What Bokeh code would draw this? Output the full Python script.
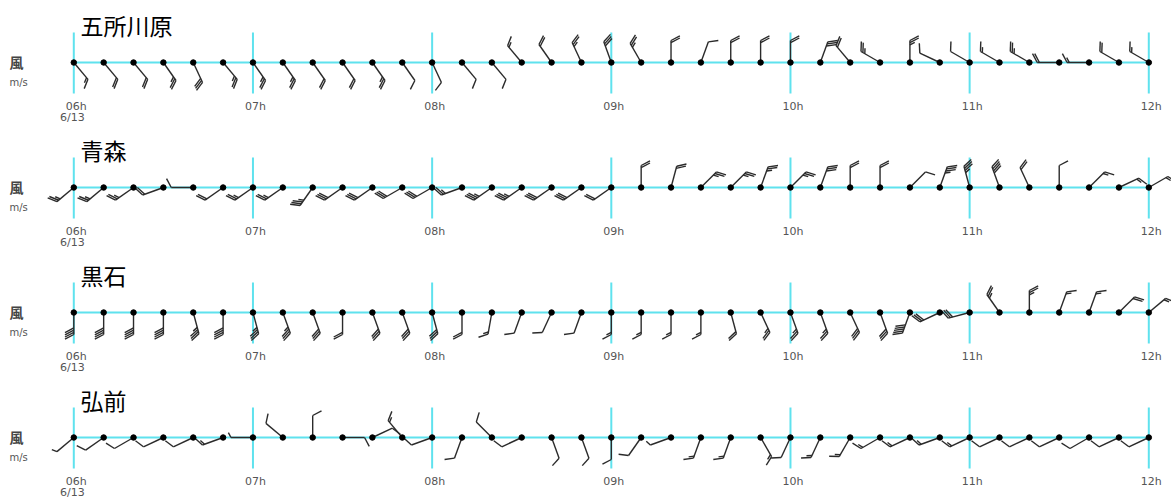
import math
from bokeh.plotting import figure
from bokeh.models import Range1d
from bokeh.embed import file_html
from bokeh.resources import INLINE
from bokeh.core.properties import value

# ---------------- data ----------------
stations = ["五所川原", "青森", "黒石", "弘前"]
minutes = list(range(0, 361, 10))          # minutes after 06:00 (10-min obs)
hour_minutes = [0, 60, 120, 180, 240, 300, 360]
hour_labels = ["06h", "07h", "08h", "09h", "10h", "11h", "12h"]
date_label = "6/13"
unit_top = "風"
unit_bottom = "m/s"

# wind direction (deg, blowing from) and speed (m/s)
goshogawara_dir = [140, 140, 140, 145, 155, 140, 145, 145, 145, 145, 145, 145, 155,
                   140, 140, 320, 325, 335, 340, 330, 0, 20, 0, 0, 0, 20, 320, 300,
                   0, 295, 300, 300, 300, 270, 270, 300, 300]
goshogawara_spd = [1.5, 2, 2, 2.5, 3, 2.5, 2.5, 2.5, 2, 2, 2.5, 1, 1,
                   1, 1, 1.5, 2, 2.5, 3, 2.5, 2, 1, 2, 2, 2, 3, 2, 2.5,
                   2.5, 1, 1, 1.5, 2.5, 2, 1.5, 2, 1.5]

aomori_dir = [230, 230, 235, 250, 270, 235, 235, 235, 215, 235, 235, 240, 240,
              250, 235, 235, 235, 235, 235, 0, 15, 45, 45, 20, 45, 20, 0, 0,
              45, 20, 345, 340, 335, 0, 45, 65, 60]
aomori_spd = [2.5, 2.5, 2.5, 2, 1, 2, 2.5, 2.5, 3.5, 3, 3, 3, 3,
              2.5, 3.5, 3.5, 3, 3, 2, 2, 2, 2.5, 2.5, 2.5, 2.5, 3, 2, 2,
              1, 3.5, 3.5, 4, 2, 1, 1.5, 1.5, 1.5]

kuroishi_dir = [180, 180, 180, 180, 165, 180, 165, 160, 160, 180, 160, 160, 165,
                180, 190, 200, 205, 200, 180, 180, 180, 180, 165, 155, 160, 160, 155, 160,
                200, 245, 255, 325, 0, 20, 20, 45, 50]
kuroishi_spd = [4, 4, 4, 4, 3.5, 4, 3.5, 3.5, 3, 2, 3, 3, 3,
                2, 1.5, 1, 1, 1, 1.5, 1.5, 1.5, 1.5, 2, 2.5, 2.5, 2.5, 3, 3,
                5, 3, 3, 2.5, 2.5, 1.5, 1.5, 2, 1.5]

hirosaki_dir = [230, 235, 240, 245, 245, 250, 270, 310, 0, 90, 65, 320, 250,
                200, 315, 245, 160, 160, 180, 215, 250, 200, 200, 150, 205, 205, 210, 240,
                245, 250, 245, 245, 245, 245, 240, 245, 245]
hirosaki_spd = [0.5, 1, 1, 1, 1, 1.5, 0.5, 1, 1, 1, 1, 1.5, 1,
                1, 1, 1, 1, 1, 1, 1, 0.5, 1.5, 1.5, 1.5, 1, 1.5, 1.5, 1.5,
                1.5, 1.5, 1.5, 1, 1, 1, 1, 1, 1]

all_dirs = [goshogawara_dir, aomori_dir, kuroishi_dir, hirosaki_dir]
all_spds = [goshogawara_spd, aomori_spd, kuroishi_spd, hirosaki_spd]

# ---------------- layout ----------------
W, H = 1171, 499
PX_PER_MIN = 1075.0 / 360.0
ORIGIN_PX = 73.3              # pixel of minute 0
x_start = -ORIGIN_PX / PX_PER_MIN
x_end = x_start + W / PX_PER_MIN
row_base = [62, 187, 312, 437]   # pixels (y grows downward)

SHAFT = 22.0
FEATHER = 10.0
SPACING = 2.2
CYAN = "#5fe2ee"

p = figure(width=W, height=H, x_range=Range1d(x_start, x_end), y_range=Range1d(H, 0),
           output_backend="svg", toolbar_location=None,
           x_axis_location=None, y_axis_location=None, min_border=0,
           outline_line_color=None, background_fill_color="white",
           border_fill_color="white")
p.grid.visible = False


def px2x(dpx):
    return dpx / PX_PER_MIN


def barb(xm, yb, d_deg, spd):
    segs = []
    d = math.radians(d_deg)
    ux, uy = math.sin(d), -math.cos(d)
    ex, ey = SHAFT * ux, SHAFT * uy
    segs.append((0, 0, ex, ey))
    a = math.radians(62)
    fx = ux * math.cos(a) - uy * math.sin(a)
    fy = ux * math.sin(a) + uy * math.cos(a)
    n_full = int(spd)
    half = (spd - n_full) >= 0.5
    pos = 0.0
    for _ in range(n_full):
        bx, by = ex - pos * ux, ey - pos * uy
        segs.append((bx, by, bx + FEATHER * fx, by + FEATHER * fy))
        pos += SPACING
    if half:
        bx, by = ex - pos * ux, ey - pos * uy
        segs.append((bx, by, bx + 0.55 * FEATHER * fx, by + 0.55 * FEATHER * fy))
    out = []
    for (a0, b0, a1, b1) in segs:
        out.append((xm + px2x(a0), yb + b0, xm + px2x(a1), yb + b1))
    return out


for r, name in enumerate(stations):
    yb = row_base[r]
    # cyan guide lines
    p.segment(x0=[minutes[0]], y0=[yb], x1=[minutes[-1]], y1=[yb],
              line_color=CYAN, line_width=2)
    p.segment(x0=hour_minutes, y0=[yb - 30] * 7, x1=hour_minutes, y1=[yb + 31] * 7,
              line_color=CYAN, line_width=2)
    # barbs
    x0s, y0s, x1s, y1s = [], [], [], []
    for m, dd, ss in zip(minutes, all_dirs[r], all_spds[r]):
        if ss <= 0:
            continue
        for (a0, b0, a1, b1) in barb(m, yb, dd, ss):
            x0s.append(a0); y0s.append(b0); x1s.append(a1); y1s.append(b1)
    p.segment(x0=x0s, y0=y0s, x1=x1s, y1=y1s, line_color="#2b2b2b", line_width=1.4)
    p.scatter(x=minutes, y=[yb] * len(minutes), size=5.5, color="black")
    # station title
    p.text(x=[px2x(80 - ORIGIN_PX)], y=[yb - 38], text=[name], text_font=value("Noto Sans CJK JP"),
           text_font_size="23px", text_baseline="middle", text_align="left", text_color="black")
    # unit labels
    p.text(x=[px2x(9 - ORIGIN_PX)], y=[yb - 1], text=[unit_top], text_font=value("Noto Sans CJK JP"),
           text_font_size="14px", text_font_style="bold", text_baseline="middle",
           text_align="left", text_color="#444444")
    p.text(x=[px2x(9 - ORIGIN_PX)], y=[yb + 20], text=[unit_bottom], text_font=value("DejaVu Sans"),
           text_font_size="10px", text_baseline="middle", text_align="left", text_color="#555555")
    # hour labels
    p.text(x=[h + px2x(2.5) for h in hour_minutes], y=[yb + 44] * 7, text=hour_labels,
           text_font=value("DejaVu Sans"), text_font_size="11px", text_baseline="middle",
           text_align="center", text_color="#555555")
    p.text(x=[px2x(-1.5)], y=[yb + 55], text=[date_label], text_font=value("DejaVu Sans"),
           text_font_size="11px", text_baseline="middle", text_align="center", text_color="#555555")

open("out.html", "w").write(file_html(p, INLINE))
